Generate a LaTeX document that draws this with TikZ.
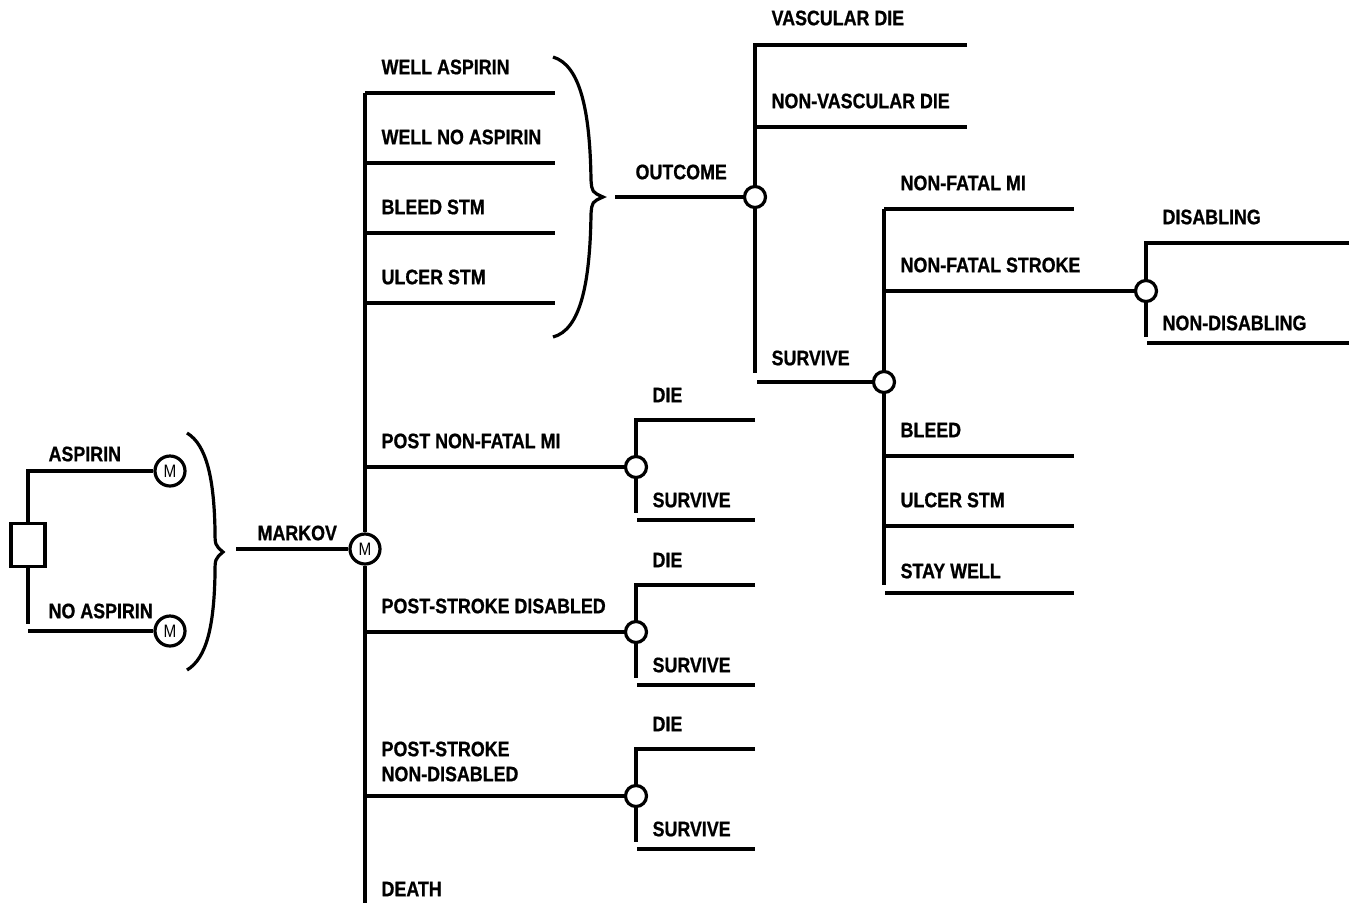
\documentclass[tikz,border=0pt]{standalone}
\usepackage{fontspec}
\newfontfamily\lblfont[FakeStretch=0.85, BoldFeatures={FakeBold=0.8}]{Liberation Sans}
\tikzset{
  lbl/.style={anchor=west, inner sep=0pt, font=\fontsize{10.5pt}{12pt}\lblfont\bfseries},
  chance/.style={draw, circle, fill=white, minimum size=10.5pt, inner sep=0pt},
  markov/.style={draw, circle, fill=white, minimum size=15pt, inner sep=0pt, font=\fontsize{9pt}{10pt}\lblfont},
  decision/.style={draw, rectangle, minimum width=17pt, minimum height=21.5pt, inner sep=0pt}
}
\begin{document}
\begin{tikzpicture}[x=0.5pt, y=-0.5pt, line width=1.6pt]
\useasboundingbox (0,0) rectangle (1353,906);

% strategies
\node[decision] (dec) at (28,545) {};
\node[markov] (m1) at (170,471) {M};
\node[markov] (m2) at (170,631) {M};
\draw (dec.north) |- (m1);
\coordinate (decb) at (28,624);
\coordinate (decc) at (28,631);
\draw (dec.south) -- (decb);
\draw (decc) -- (m2);
\node[lbl] (asp) at (47,454) {ASPIRIN};
\node[lbl] (noasp) at (47,611) {NO ASPIRIN};
\draw (187,433) .. controls (207,445) and (214,480) .. (215,530)
  .. controls (215,545) .. (223,552) .. controls (215,559) .. (215,574)
  .. controls (214,625) and (207,658) .. (187,670);

% markov node
\node[markov] (mk) at (365,549) {M};
\coordinate (b1) at (236,549);
\draw (b1) -- (mk);
\node[lbl] (markov) at (256,533) {MARKOV};
\coordinate (top) at (365,93);
\coordinate (bot) at (365,903);
\draw (top) -- (mk) -- (bot);
\foreach \y/\t [count=\i] in {93/WELL ASPIRIN, 163/WELL NO ASPIRIN, 233/BLEED STM, 303/ULCER STM} {
  \coordinate (s\i a) at (365,\y);
  \coordinate (s\i b) at (555,\y);
  \draw (s\i a) -- (s\i b);
  \node[lbl] (s\i) at (380,\y-26) {\t};
}
\draw (553,57) .. controls (580,65) and (590,110) .. (591,180)
  .. controls (592,192) .. (603,197) .. controls (592,202) .. (591,214)
  .. controls (590,285) and (580,330) .. (553,337);

% post states
\foreach \n/\y in {c1/467, c2/632, c3/796} {
  \node[chance] (\n) at (636,\y) {};
  \coordinate (\n s) at (365,\y);
  \coordinate (\n t) at (636,\y-47);
  \coordinate (\n u) at (755,\y-47);
  \coordinate (\n b) at (636,\y+46);
  \coordinate (\n v) at (637,\y+53);
  \coordinate (\n w) at (755,\y+53);
  \draw (\n s) -- (\n);
  \draw (\n u) -- (\n t) -- (\n) -- (\n b);
  \draw (\n v) -- (\n w);
  \node[lbl] (\n die) at (651,\y-72) {DIE};
  \node[lbl] (\n sur) at (651,\y+33) {SURVIVE};
}
\node[lbl] (pmi) at (380,441) {POST NON-FATAL MI};
\node[lbl] (psd) at (380,606) {POST-STROKE DISABLED};
\node[lbl] (psn) at (380,749) {POST-STROKE};
\node[lbl] (psn2) at (380,774) {NON-DISABLED};
\node[lbl] (death) at (380,889) {DEATH};

% outcome
\node[chance] (oc) at (755,197) {};
\coordinate (b2) at (615,197);
\draw (b2) -- (oc);
\node[lbl] (outcome) at (634,172) {OUTCOME};
\coordinate (oct) at (755,45);
\coordinate (ocb) at (755,373);
\coordinate (vd) at (967,45);
\coordinate (nvd) at (967,127);
\coordinate (nvda) at (755,127);
\draw (vd) -- (oct) -- (oc) -- (ocb);
\draw (nvda) -- (nvd);
\node[lbl] (vdl) at (770,18) {VASCULAR DIE};
\node[lbl] (nvdl) at (770,101) {NON-VASCULAR DIE};
\node[chance] (sv) at (884,382) {};
\coordinate (sva) at (757,382);
\draw (sva) -- (sv);
\node[lbl] (svl) at (770,358) {SURVIVE};

% survive
\coordinate (svt) at (884,209);
\coordinate (svb) at (884,585);
\draw (svt) -- (sv) -- (svb);
\foreach \y [count=\i] in {209, 456, 526} {
  \coordinate (e\i a) at (884,\y);
  \coordinate (e\i b) at (1074,\y);
  \draw (e\i a) -- (e\i b);
}
\coordinate (swa) at (885,593);
\coordinate (swb) at (1074,593);
\draw (swa) -- (swb);
\foreach \y/\t [count=\i] in {183/NON-FATAL MI, 265/NON-FATAL STROKE, 430/BLEED, 500/ULCER STM, 571/STAY WELL} {
  \node[lbl] (r\i) at (899,\y) {\t};
}
\node[chance] (ds) at (1146,291) {};
\coordinate (nfs) at (884,291);
\draw (nfs) -- (ds);
\coordinate (dst) at (1146,243);
\coordinate (dsb) at (1146,337);
\coordinate (dse) at (1349,243);
\coordinate (nda) at (1147,343);
\coordinate (ndb) at (1349,343);
\draw (dse) -- (dst) -- (ds) -- (dsb);
\draw (nda) -- (ndb);
\node[lbl] (dis) at (1161,217) {DISABLING};
\node[lbl] (ndis) at (1161,323) {NON-DISABLING};
\end{tikzpicture}
\end{document}
